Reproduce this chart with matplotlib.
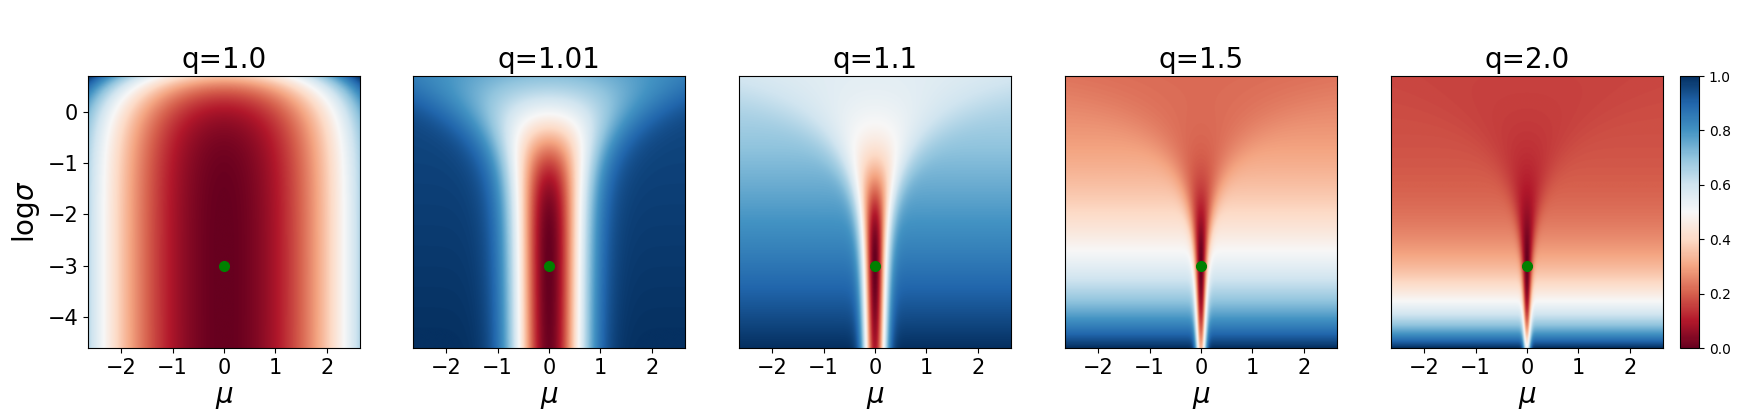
import numpy as np
import matplotlib
matplotlib.use('Agg')
import matplotlib.pyplot as plt

q_values = [1.0, 1.01, 1.1, 1.5, 2.0]
titles = ['q=1.0', 'q=1.01', 'q=1.1', 'q=1.5', 'q=2.0']
target_mu = 0.0
target_log_sigma = -3.0
log_sigma_range = [np.log(0.01), np.log(2.0)]
mu_half = (log_sigma_range[1] - log_sigma_range[0]) / 2
cbar_ticks = [0.0, 0.2, 0.4, 0.6, 0.8, 1.0]


def divergence(mu, log_sigma, q):
    # divergence between N(mu, sigma) and the target N(target_mu, s0)
    s0 = np.exp(target_log_sigma)
    sigma = np.exp(log_sigma)
    m = mu - target_mu
    if q == 1.0:
        return np.log(s0 / sigma) + (sigma**2 + m**2) / (2 * s0**2) - 0.5
    a = q - 1
    int_q = (2 * np.pi * sigma**2) ** (-a / 2) / np.sqrt(q)
    int_p = (2 * np.pi * s0**2) ** (-a / 2) / np.sqrt(q)
    cross = (2 * np.pi * s0**2) ** (-a / 2) / np.sqrt(1 + a * sigma**2 / s0**2) \
        * np.exp(-a * m**2 / (2 * (s0**2 + a * sigma**2)))
    return int_p - q / a * cross + int_q / a


mu_grid = np.linspace(-mu_half, mu_half, 600)
ls_grid = np.linspace(log_sigma_range[0], log_sigma_range[1], 600)
MU, LS = np.meshgrid(mu_grid, ls_grid)
extent = [-mu_half, mu_half, log_sigma_range[0], log_sigma_range[1]]

fig = plt.figure(figsize=(17.5, 4.2), dpi=100)
lefts = [88, 413, 739, 1065, 1391]

for i, q in enumerate(q_values):
    ax = fig.add_axes([lefts[i] / 1750, 72 / 420, 272 / 1750, 272 / 420])
    d = divergence(MU, LS, q)
    d = (d - d.min()) / (d.max() - d.min())
    im = ax.imshow(d, origin='lower', extent=extent, aspect='auto',
                   cmap='RdBu', vmin=0, vmax=1, interpolation='bilinear')
    ax.plot(target_mu, target_log_sigma, 'o', color='green', markersize=7)
    ax.set_title(titles[i], fontsize=20)
    ax.set_xlabel(r'$\mu$', fontsize=20)
    ax.set_xticks([-2, -1, 0, 1, 2])
    ax.tick_params(labelsize=15)
    if i == 0:
        ax.set_ylabel(r'log$\sigma$', fontsize=20)
        ax.set_yticks([0, -1, -2, -3, -4])
    else:
        ax.set_yticks([])

cax = fig.add_axes([1680 / 1750, 72 / 420, 19 / 1750, 272 / 420])
cb = fig.colorbar(im, cax=cax, ticks=cbar_ticks)
cb.ax.tick_params(labelsize=10)

plt.savefig('out.png', dpi=100)
